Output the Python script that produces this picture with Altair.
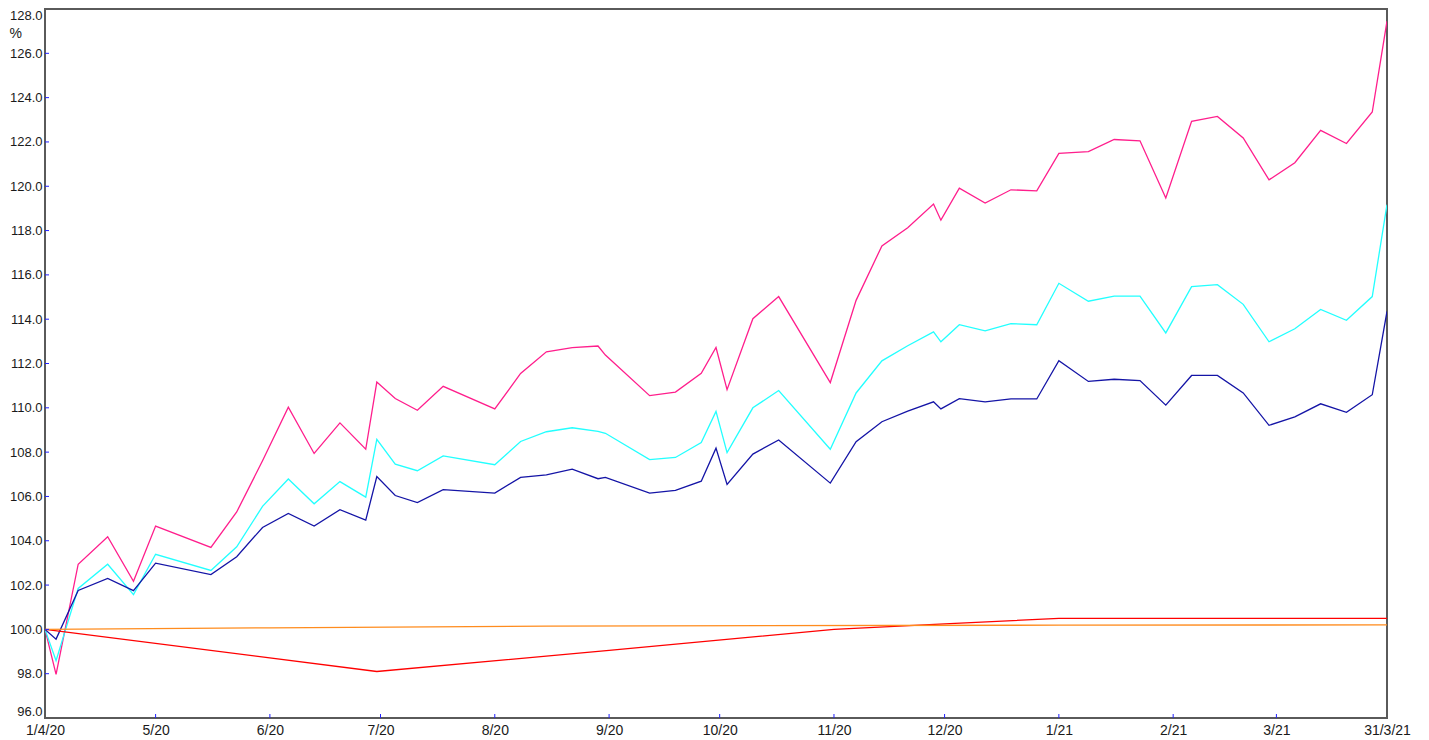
import altair as alt
import pandas as pd

# ---- data ----
dates = [
    "2020-04-01", "2020-04-04", "2020-04-10", "2020-04-18", "2020-04-25", "2020-05-01",
    "2020-05-16", "2020-05-23", "2020-05-30", "2020-06-06", "2020-06-13", "2020-06-20",
    "2020-06-27", "2020-06-30", "2020-07-05", "2020-07-11", "2020-07-18", "2020-08-01",
    "2020-08-08", "2020-08-15", "2020-08-22", "2020-08-29", "2020-08-31", "2020-09-12",
    "2020-09-19", "2020-09-26", "2020-09-30", "2020-10-03", "2020-10-10", "2020-10-17",
    "2020-10-31", "2020-11-07", "2020-11-14", "2020-11-21", "2020-11-28", "2020-11-30",
    "2020-12-05", "2020-12-12", "2020-12-19", "2020-12-26", "2021-01-01", "2021-01-09",
    "2021-01-16", "2021-01-23", "2021-01-30", "2021-02-06", "2021-02-13", "2021-02-20",
    "2021-02-27", "2021-03-06", "2021-03-13", "2021-03-20", "2021-03-27", "2021-03-31",
]
pink_series = [
    100.0, 97.97, 102.94, 104.18, 102.17, 104.66,
    103.70, 105.30, 107.61, 110.03, 107.94, 109.32,
    108.13, 111.16, 110.42, 109.89, 110.97, 109.95,
    111.55, 112.53, 112.72, 112.79, 112.38, 110.55,
    110.71, 111.56, 112.72, 110.82, 114.02, 115.02,
    111.14, 114.85, 117.31, 118.13, 119.20, 118.47,
    119.91, 119.24, 119.84, 119.79, 121.48, 121.56,
    122.11, 122.05, 119.47, 122.93, 123.15, 122.18,
    120.29, 121.06, 122.52, 121.93, 123.35, 127.45,
]
cyan_series = [
    100.0, 98.59, 101.85, 102.94, 101.57, 103.39,
    102.66, 103.73, 105.55, 106.79, 105.67, 106.67,
    105.97, 108.58, 107.46, 107.16, 107.83, 107.43,
    108.48, 108.92, 109.10, 108.94, 108.85, 107.66,
    107.76, 108.43, 109.84, 107.98, 110.00, 110.78,
    108.13, 110.67, 112.12, 112.80, 113.43, 112.98,
    113.75, 113.47, 113.80, 113.75, 115.62, 114.81,
    115.04, 115.04, 113.38, 115.47, 115.56, 114.67,
    112.98, 113.57, 114.44, 113.95, 115.02, 119.17,
]
navy_series = [
    100.0, 99.56, 101.76, 102.30, 101.75, 102.99,
    102.47, 103.28, 104.60, 105.23, 104.66, 105.40,
    104.93, 106.90, 106.04, 105.72, 106.31, 106.15,
    106.86, 106.97, 107.23, 106.80, 106.86, 106.15,
    106.27, 106.69, 108.18, 106.54, 107.91, 108.55,
    106.60, 108.47, 109.37, 109.85, 110.27, 109.95,
    110.41, 110.27, 110.40, 110.40, 112.13, 111.19,
    111.29, 111.23, 110.12, 111.46, 111.46, 110.67,
    109.21, 109.59, 110.18, 109.80, 110.59, 114.35,
]
red_dates = ["2020-04-01", "2020-06-30", "2020-09-01", "2020-11-01", "2020-12-01", "2021-01-01", "2021-03-31"]
red_series = [100.0, 98.10, 99.05, 100.0, 100.25, 100.50, 100.50]
orange_dates = ["2020-04-01", "2020-06-01", "2020-08-15", "2021-01-01", "2021-03-31"]
orange_series = [100.0, 100.07, 100.15, 100.19, 100.20]

series_names = ["Pink", "Cyan", "Navy", "Red", "Orange"]
series_colors = ["#FF1E8C", "#22FFFF", "#1414A6", "#FF0000", "#FF8C1E"]

y_ticks = [96.0, 98.0, 100.0, 102.0, 104.0, 106.0, 108.0, 110.0, 112.0, 114.0,
           116.0, 118.0, 120.0, 122.0, 124.0, 126.0, 128.0]
x_tick_dates = ["2020-04-01", "2020-05-01", "2020-06-01", "2020-07-01", "2020-08-01",
                "2020-09-01", "2020-10-01", "2020-11-01", "2020-12-01", "2021-01-01",
                "2021-02-01", "2021-03-01", "2021-03-31"]
x_tick_labels = ["1/4/20", "5/20", "6/20", "7/20", "8/20", "9/20", "10/20", "11/20",
                 "12/20", "1/21", "2/21", "3/21", "31/3/21"]

# ---- build tables ----
rows = []
for name, vals in zip(series_names[:3], [pink_series, cyan_series, navy_series]):
    for d, v in zip(dates, vals):
        rows.append({"date": d, "value": v, "series": name})
for d, v in zip(red_dates, red_series):
    rows.append({"date": d, "value": v, "series": "Red"})
for d, v in zip(orange_dates, orange_series):
    rows.append({"date": d, "value": v, "series": "Orange"})
df = pd.DataFrame(rows)
order_map = {"Red": 0, "Orange": 1, "Navy": 2, "Cyan": 3, "Pink": 4}
df["order"] = df["series"].map(order_map)


def dt(s):
    y, m, d = (int(p) for p in s.split("-"))
    return alt.DateTime(year=y, month=m, date=d, utc=True)


W, H = 1342, 709
FONT = "Liberation Sans"

label_expr = "''"
for d, l in reversed(list(zip(x_tick_dates, x_tick_labels))):
    label_expr = f"utcFormat(datum.value, '%Y-%m-%d') == '{d}' ? '{l}' : ({label_expr})"

x_scale = alt.Scale(type="utc", domain=[dt(x_tick_dates[0]), dt(x_tick_dates[-1])], nice=False)
y_scale = alt.Scale(domain=[y_ticks[0], y_ticks[-1]], nice=False, zero=False)

x_axis = alt.Axis(values=[dt(d) for d in x_tick_dates], labelExpr=label_expr, ticks=False,
                  domain=False, grid=False, labelPadding=5, labelFontSize=14, labelFont=FONT,
                  labelColor="#1a1a1a", title=None, labelOverlap=False, labelFlush=False,
                  labelBound=False)
y_axis = alt.Axis(values=y_ticks, format=".1f", labelFlush=True, ticks=False, domain=False,
                  grid=False, labelPadding=3, labelFontSize=13, labelFont=FONT,
                  labelColor="#1a1a1a", labelOverlap=False, title="%", titleAngle=0,
                  titleX=-36, titleY=24, titleAlign="left", titleBaseline="middle",
                  titleFontSize=14, titleFontWeight="normal", titleFont=FONT,
                  titleColor="#1a1a1a")

lines = alt.Chart(df).mark_line(strokeWidth=1.3, clip=True).encode(
    x=alt.X("date:T", scale=x_scale, axis=x_axis),
    y=alt.Y("value:Q", scale=y_scale, axis=y_axis),
    color=alt.Color("series:N", scale=alt.Scale(domain=series_names, range=series_colors),
                    legend=None),
    detail="series:N",
    order="order:Q",
)

ytick_df = pd.DataFrame({"value": y_ticks[1:-1]})
yticks = alt.Chart(ytick_df).mark_rule(color="#2020ff", strokeWidth=1).encode(
    y=alt.Y("value:Q"),
    x=alt.value(0),
    x2=alt.value(4),
)
xtick_df = pd.DataFrame({"date": x_tick_dates[1:-1]})
xticks = alt.Chart(xtick_df).mark_rule(color="#2020ff", strokeWidth=1).encode(
    x=alt.X("date:T"),
    y=alt.value(H - 4),
    y2=alt.value(H),
)

chart = alt.layer(lines, yticks, xticks).properties(
    width=W,
    height=H,
    padding={"left": 37, "top": 1, "right": 30, "bottom": 24},
    autosize=alt.AutoSizeParams(type="none"),
    background="white",
).configure_view(stroke="#5a5a5a", strokeWidth=2)

chart.save("out.html", embed_options={"renderer": "svg", "actions": False})
